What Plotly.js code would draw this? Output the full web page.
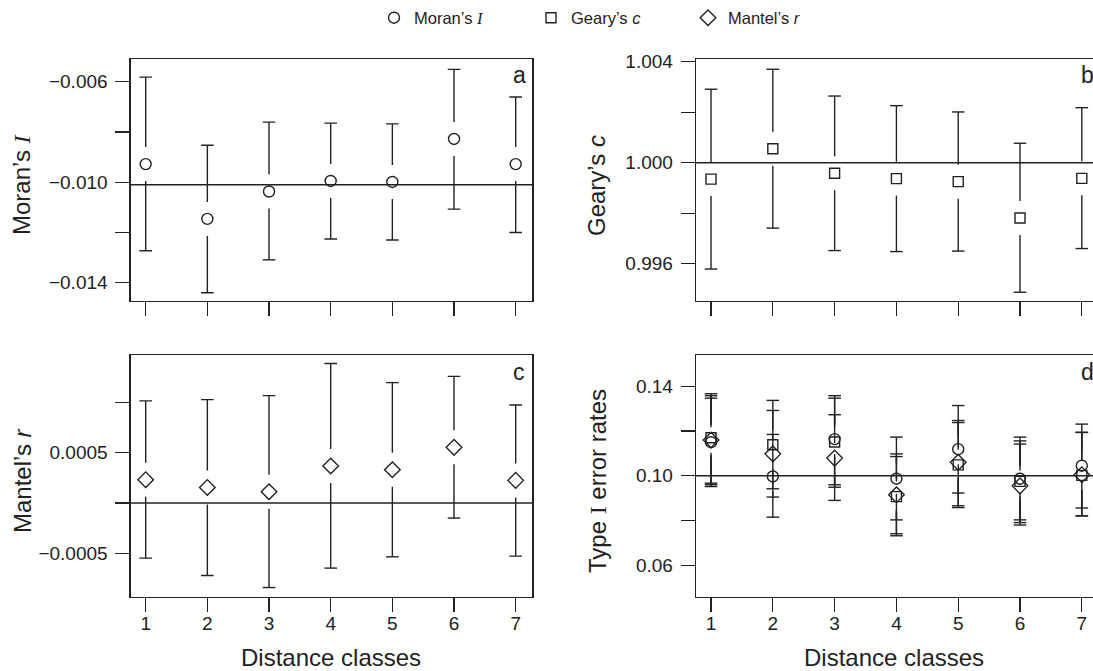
<!DOCTYPE html>
<html><head><meta charset="utf-8">
<script src="https://cdn.plot.ly/plotly-3.0.1.min.js"></script>
<style>html,body{margin:0;padding:0;background:#fff;overflow:hidden}</style>
</head><body><div id="chart" style="width:1093px;height:671px"></div>
<script>
// ---------------- data ----------------
const classes = [1, 2, 3, 4, 5, 6, 7];

const moranI  = [-0.00928, -0.01146, -0.01037, -0.00995, -0.00999, -0.00828, -0.00928];
const moranHi = [-0.00582, -0.00853, -0.00761, -0.00765, -0.00768, -0.00551, -0.00661];
const moranLo = [-0.01273, -0.01440, -0.01309, -0.01226, -0.01230, -0.01107, -0.01200];

const gearyC  = [0.99935, 1.00055, 0.99958, 0.99937, 0.99925, 0.99781, 0.99938];
const gearyHi = [1.00291, 1.00370, 1.00264, 1.00226, 1.00201, 1.00077, 1.00218];
const gearyLo = [0.99579, 0.99741, 0.99652, 0.99648, 0.99650, 0.99487, 0.99660];

const mantelR  = [0.000232, 0.000155, 0.000112, 0.000368, 0.000331, 0.000553, 0.000225];
const mantelHi = [0.001014, 0.001027, 0.001067, 0.001385, 0.001196, 0.001258, 0.000974];
const mantelLo = [-0.000547, -0.000720, -0.000839, -0.000646, -0.000534, -0.000149, -0.000527];

const typeIMoran   = [0.1150, 0.0997, 0.1164, 0.0987, 0.1119, 0.0987, 0.1045];
const typeIMoranHi = [0.1347, 0.1185, 0.1358, 0.1173, 0.1314, 0.1173, 0.1231];
const typeIMoranLo = [0.0952, 0.0815, 0.0960, 0.0803, 0.0923, 0.0803, 0.0856];

const typeIGeary   = [0.1170, 0.1139, 0.1151, 0.0907, 0.1049, 0.0975, 0.1002];
const typeIGearyHi = [0.1367, 0.1337, 0.1347, 0.1086, 0.1238, 0.1156, 0.1194];
const typeIGearyLo = [0.0967, 0.0942, 0.0949, 0.0732, 0.0858, 0.0791, 0.0821];

const typeIMantel   = [0.1160, 0.1098, 0.1079, 0.0915, 0.1060, 0.0955, 0.1005];
const typeIMantelHi = [0.1358, 0.1292, 0.1273, 0.1098, 0.1247, 0.1142, 0.1194];
const typeIMantelLo = [0.0960, 0.0905, 0.0890, 0.0741, 0.0866, 0.0780, 0.0821];

const refMoran = -0.0101, refGeary = 1.0, refMantel = 0.0, refTypeI = 0.10;

const yTicksA = [-0.014, -0.012, -0.010, -0.008, -0.006];
const yTextA  = ['\u22120.014', '', '\u22120.010', '', '\u22120.006'];
const yTicksB = [0.996, 0.998, 1.000, 1.002, 1.004];
const yTextB  = ['0.996', '', '1.000', '', '1.004'];
const yTicksC = [-0.0005, 0, 0.0005, 0.001];
const yTextC  = ['\u22120.0005', '', '0.0005', ''];
const yTicksD = [0.06, 0.08, 0.10, 0.12, 0.14];
const yTextD  = ['0.06', '', '0.10', '', '0.14'];

// ---------------- layout geometry ----------------
const W = 1093, H = 671;
const colL = [130.7, 532.4], colR = [696, 1093];
const rowT = [59, 301], rowB = [355, 597];
const xRangeL = [0.757, 7.271], xRangeR = [0.757, 7.181];
const yRangeA = [-0.014728, -0.005097];
const yRangeB = [0.994523, 1.004107];
const yRangeC = [-0.000933, 0.00147];
const yRangeD = [0.04583, 0.15399];
const ink = '#222';
const FONT = 'Liberation Sans, Arial, sans-serif';

function dx(px) { return [px[0] / W, px[1] / W]; }
function dy(px) { return [1 - px[1] / H, 1 - px[0] / H]; }

function segs(xs, ys, lo, hi, yRange, rowPx, xRange, colPx, gapPx, capPx) {
  const g = gapPx * (yRange[1] - yRange[0]) / (rowPx[1] - rowPx[0]);
  const c = capPx * (xRange[1] - xRange[0]) / (colPx[1] - colPx[0]);
  const X = [], Y = [];
  xs.forEach((x, i) => {
    X.push(x - c, x + c, null, x, x, null, x, x, null, x - c, x + c, null);
    Y.push(hi[i], hi[i], null, hi[i], ys[i] + g, null, ys[i] - g, lo[i], null, lo[i], lo[i], null);
  });
  return {X, Y};
}

const traces = [];
function addSeries(xa, ya, ys, lo, hi, yRange, rowPx, xRange, colPx, gapPx, symbol, name, size, legend) {
  const s = segs(classes, ys, lo, hi, yRange, rowPx, xRange, colPx, gapPx, 6.3);
  traces.push({x: s.X, y: s.Y, xaxis: xa, yaxis: ya, mode: 'lines', connectgaps: false,
    line: {color: ink, width: 1.4}, showlegend: false, hoverinfo: 'skip'});
  return {x: classes, y: ys, xaxis: xa, yaxis: ya, mode: 'markers', name: name, showlegend: legend,
    marker: {symbol: symbol, size: size, color: ink, line: {color: ink, width: 1.4}}};
}

const markA = addSeries('x', 'y', moranI, moranLo, moranHi, yRangeA, rowT, xRangeL, colL, 17, 'circle-open', 'a', 11, false);
const markB = addSeries('x2', 'y2', gearyC, gearyLo, gearyHi, yRangeB, rowT, xRangeR, colR, 17, 'square-open', 'b', 10, false);
const markC = addSeries('x3', 'y3', mantelR, mantelLo, mantelHi, yRangeC, rowB, xRangeL, colL, 17, 'diamond-open', 'c', 12, false);
const serif = "<span style=\"font-family:'Liberation Serif',serif\">";
const markD1 = addSeries('x4', 'y4', typeIMoran, typeIMoranLo, typeIMoranHi, yRangeD, rowB, xRangeR, colR, 15, 'circle-open', 'Moran\u2019s ' + serif + '<i>I</i></span>', 11, true);
const markD2 = addSeries('x4', 'y4', typeIGeary, typeIGearyLo, typeIGearyHi, yRangeD, rowB, xRangeR, colR, 15, 'square-open', 'Geary\u2019s <i>c</i>', 10, true);
const markD3 = addSeries('x4', 'y4', typeIMantel, typeIMantelLo, typeIMantelHi, yRangeD, rowB, xRangeR, colR, 15, 'diamond-open', 'Mantel\u2019s <i>r</i>', 12, true);
traces.push(markA, markB, markC, markD1, markD2, markD3);

const axBase = {showline: true, linecolor: ink, linewidth: 1.3, ticks: 'outside', ticklen: 14,
  tickwidth: 1.3, tickcolor: ink, showgrid: false, zeroline: false, fixedrange: true,
  tickfont: {family: FONT, size: 19, color: ink}};

function xax(dom, range, anchor, labels) {
  return Object.assign({}, axBase, {domain: dom, range: range, anchor: anchor, mirror: true,
    tickmode: 'array', tickvals: classes, ticktext: classes.map(String), showticklabels: labels,
    ticklabelstandoff: -5});
}
function yax(dom, range, anchor, vals, text, mirror) {
  return Object.assign({}, axBase, {domain: dom, range: range, anchor: anchor, mirror: mirror,
    tickmode: 'array', tickvals: vals, ticktext: text, ticklabelstandoff: 4});
}

function hline(xref, yref, v) {
  return {type: 'line', xref: xref + ' domain', yref: yref, x0: 0, x1: 1, y0: v, y1: v,
    line: {color: ink, width: 1.6}, layer: 'below'};
}

function ann(text, xpx, ypx, size, extra) {
  return Object.assign({text: text, xref: 'paper', yref: 'paper', x: xpx / W, y: 1 - ypx / H,
    showarrow: false, font: {family: FONT, size: size, color: ink}, xanchor: 'center', yanchor: 'middle'}, extra || {});
}

const layout = {
  width: W, height: H, margin: {l: 0, r: 0, t: 0, b: 0},
  paper_bgcolor: '#fff', plot_bgcolor: '#fff',
  font: {family: FONT, color: ink},
  xaxis: xax(dx(colL), xRangeL, 'y', false),
  yaxis: yax(dy(rowT), yRangeA, 'x', yTicksA, yTextA, true),
  xaxis2: xax(dx(colR), xRangeR, 'y2', false),
  yaxis2: yax(dy(rowT), yRangeB, 'x2', yTicksB, yTextB, false),
  xaxis3: xax(dx(colL), xRangeL, 'y3', true),
  yaxis3: yax(dy(rowB), yRangeC, 'x3', yTicksC, yTextC, true),
  xaxis4: xax(dx(colR), xRangeR, 'y4', true),
  yaxis4: yax(dy(rowB), yRangeD, 'x4', yTicksD, yTextD, false),
  shapes: [hline('x', 'y', refMoran), hline('x2', 'y2', refGeary), hline('x3', 'y3', refMantel), hline('x4', 'y4', refTypeI)],
  showlegend: true,
  legend: {orientation: 'h', x: 374 / W, y: 1 - 18 / H, xanchor: 'left', yanchor: 'middle',
    font: {family: FONT, size: 16.5, color: ink}, entrywidth: 112, entrywidthmode: 'pixels',
    bgcolor: 'rgba(0,0,0,0)', borderwidth: 0, itemwidth: 30},
  annotations: [
    ann('Moran\u2019s ' + serif + '<i>I</i></span>', 22, 185, 24, {textangle: -90}),
    ann('Geary\u2019s <i>c</i>', 597, 185, 24, {textangle: -90}),
    ann('Mantel\u2019s <i>r</i>', 22, 481, 24, {textangle: -90}),
    ann('Type ' + serif + 'I</span> error rates', 597, 481, 24, {textangle: -90}),
    ann('Distance classes', 331, 657, 24),
    ann('Distance classes', 894, 657, 24),
    ann('a', 519, 75, 23),
    ann('b', 1087, 75, 23),
    ann('c', 519, 372, 23),
    ann('d', 1087, 372, 23)
  ]
};

Plotly.newPlot('chart', traces, layout, {displayModeBar: false, staticPlot: true});
</script></body></html>
